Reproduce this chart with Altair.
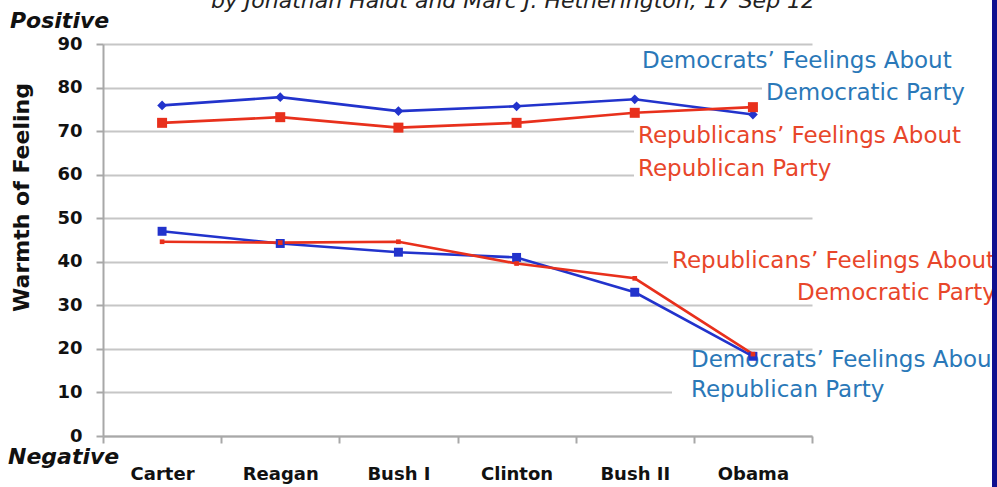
import altair as alt
import pandas as pd

# ---------------- data ----------------
presidents = ["Carter", "Reagan", "Bush I", "Clinton", "Bush II", "Obama"]
dem_about_dem = [75.9, 77.8, 74.6, 75.7, 77.3, 73.8]
rep_about_rep = [71.9, 73.2, 70.8, 71.9, 74.2, 75.5]
dem_about_rep = [47.0, 44.2, 42.2, 41.0, 33.0, 18.3]
rep_about_dem = [44.6, 44.4, 44.6, 39.6, 36.2, 18.8]
y_ticks = [0, 10, 20, 30, 40, 50, 60, 70, 80, 90]
series_names = ["DemDem", "RepRep", "DemRep", "RepDem"]

rows = []
for name, vals in zip(series_names, [dem_about_dem, rep_about_rep, dem_about_rep, rep_about_dem]):
    for p, v in zip(presidents, vals):
        rows.append({"president": p, "warmth": v, "series": name})
df = pd.DataFrame(rows)
dummy = pd.DataFrame({"k": [0]})

# ---------------- styles ----------------
PAD_L, PAD_T = 103, 44
W, H = 709, 392
BLUE_LINE = "#2233cc"
RED_LINE = "#e8301c"
BLUE_TXT = "#2a78b8"
RED_TXT = "#e8462a"
AX = "#a8a8a8"
FONT = "DejaVu Sans"

color_scale = alt.Scale(domain=series_names, range=[BLUE_LINE, RED_LINE, BLUE_LINE, RED_LINE])
marker_style = {
    "DemDem": ("diamond", 95, BLUE_LINE),
    "RepRep": ("square", 100, RED_LINE),
    "DemRep": ("square", 80, BLUE_LINE),
    "RepDem": ("square", 22, RED_LINE),
}

x_scale = alt.Scale(type="band", paddingInner=0, paddingOuter=0)
y_scale = alt.Scale(domain=[0, 90], nice=False, zero=True)

x_axis = alt.Axis(title=None, labelAngle=0, tickBand="extent", grid=False,
                  domainColor=AX, domainWidth=2, tickColor=AX, tickWidth=2, tickSize=7,
                  labelFont=FONT, labelFontWeight="bold", labelFontSize=18, labelColor="#111",
                  labelBaseline="alphabetic", labelPadding=36)
y_axis = alt.Axis(values=y_ticks, title="Warmth of Feeling", grid=True, gridColor="#c6c6c6", gridWidth=2,
                  domainColor=AX, domainWidth=2, tickColor=AX, tickWidth=2, tickSize=7,
                  labelFont=FONT, labelFontWeight="bold", labelFontSize=18, labelColor="#111",
                  labelPadding=14,
                  titleFont=FONT, titleFontWeight="bold", titleFontSize=22, titleColor="#111",
                  titleAngle=270, titleX=-75, titleY=153, titleAlign="center",
                  titleBaseline="alphabetic")

x_enc = alt.X("president:N", sort=presidents, bandPosition=0.5, scale=x_scale, axis=x_axis)
y_enc = alt.Y("warmth:Q", scale=y_scale, axis=y_axis)

base = alt.Chart(df)

lines = base.mark_line(strokeWidth=2.6).encode(
    x=x_enc, y=y_enc,
    color=alt.Color("series:N", scale=color_scale, legend=None),
    detail="series:N",
)

point_layers = []
for name in series_names:
    shp, sz, col = marker_style[name]
    point_layers.append(
        base.transform_filter(alt.datum.series == name)
        .mark_point(filled=True, opacity=1, shape=shp, size=sz, color=col)
        .encode(x=x_enc, y=y_enc)
    )


def label(text, x, y, color, size=23, weight="normal", style="normal", align="left"):
    return alt.Chart(dummy).mark_text(
        text=text, align=align, baseline="alphabetic", font=FONT, fontSize=size,
        fontWeight=weight, fontStyle=style, color=color
    ).encode(x=alt.value(x - PAD_L), y=alt.value(y - PAD_T))


def box(x1, y1, x2, y2, color="white"):
    return alt.Chart(dummy).mark_rect(color=color).encode(
        x=alt.value(x1 - PAD_L), x2=alt.value(x2 - PAD_L),
        y=alt.value(y1 - PAD_T), y2=alt.value(y2 - PAD_T)
    )


boxes = [
    box(636, 49, 1000, 74),
    box(762, 80, 1000, 106),
    box(634, 123, 1000, 183),
    box(668, 249, 1000, 273),
    box(790, 280, 1000, 302),
    box(672, 352, 1000, 373),
    box(672, 378, 1000, 404),
]

texts = [
    label("by Jonathan Haidt and Marc J. Hetherington, 17 Sep 12", 513, 8, "#222", size=22,
          style="italic", align="center"),
    label("Positive", 10, 28, "#111", size=22, weight="bold", style="italic"),
    label("Negative", 8, 464, "#111", size=22, weight="bold", style="italic"),
    label("Democrats\u2019 Feelings About", 642, 68, BLUE_TXT),
    label("Democratic Party", 766, 100, BLUE_TXT),
    label("Republicans\u2019 Feelings About", 638, 143, RED_TXT),
    label("Republican Party", 638, 176, RED_TXT),
    label("Republicans\u2019 Feelings About", 672, 268, RED_TXT),
    label("Democratic Party", 797, 300, RED_TXT),
    label("Democrats\u2019 Feelings About", 691, 367, BLUE_TXT),
    label("Republican Party", 691, 397, BLUE_TXT),
]

border = box(992, 0, 1010, 487, color="#10108f")

chart = alt.layer(*boxes, *texts, lines, *point_layers, border).properties(
    width=W, height=H,
    autosize=alt.AutoSizeParams(type="none"),
    padding={"left": PAD_L, "top": PAD_T, "right": 997 - PAD_L - W, "bottom": 487 - PAD_T - H},
    background="white",
).configure_view(stroke=None)

chart.save("out.html", embed_options={"renderer": "svg", "actions": False})
